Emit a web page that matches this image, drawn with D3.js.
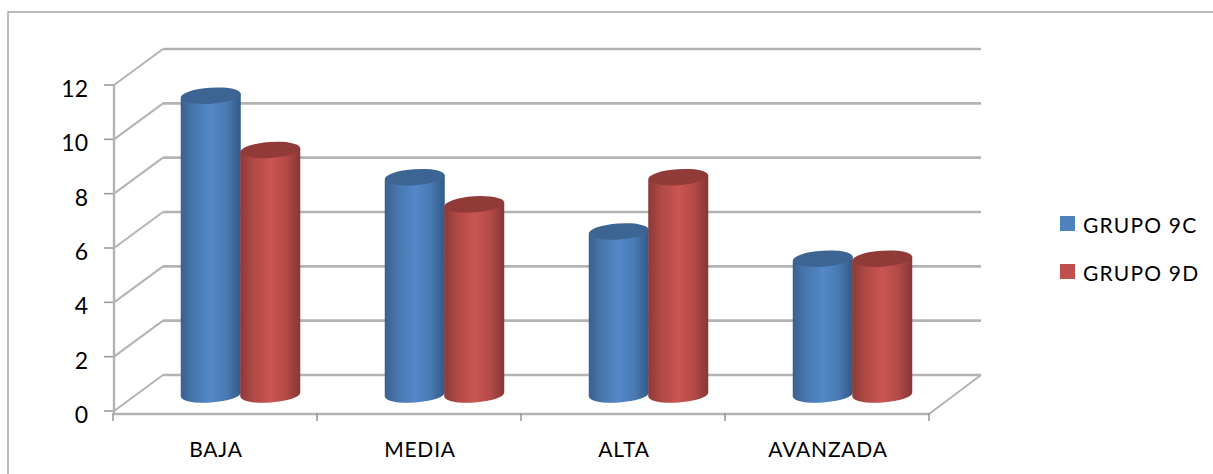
<!DOCTYPE html>
<html><head><meta charset="utf-8">
<script src="https://cdn.jsdelivr.net/npm/d3@7"></script>
<style>html,body{margin:0;padding:0;background:#fff}svg{display:block}text{font-family:Lato,"Open Sans",sans-serif;fill:#000}</style>
</head><body><svg id="c" width="1213" height="474"></svg>
<script>
const categories=["BAJA","MEDIA","ALTA","AVANZADA"];
const seriesNames=["GRUPO 9C","GRUPO 9D"];
const grupo9C=[11,8,6,5];
const grupo9D=[9,7,8,5];
const yTicks=[0,2,4,6,8,10,12];
const seriesValues=[grupo9C,grupo9D];
const colors=["#4f81bd","#c0504d"];

const svg=d3.select("#c");
const defs=svg.append("defs");
defs.append("filter").attr("id","soft").attr("x","-5%").attr("y","-5%").attr("width","110%").attr("height","110%")
  .append("feGaussianBlur").attr("stdDeviation",0.7);
const stops=[[["#38618f",0],["#4674a9",.18],["#5388c8",.5],["#4a7ab5",.75],["#335a88",1]],
             [["#8c3a38",0],["#ad4845",.2],["#cb5552",.5],["#b54b48",.75],["#863735",1]]];
stops.forEach((s,i)=>{
  const g=defs.append("linearGradient").attr("id","g"+i);
  s.forEach(([c,o])=>g.append("stop").attr("offset",o).attr("stop-color",c));
});
const topCol=["#3c6594","#913a38"];

const frontL=113,frontR=929,depthX=50,depthY=36;
const y=d3.scaleLinear().domain([0,12]).range([411,85]);
const x=d3.scaleBand().domain(categories).range([frontL,frontR]);
const grid="#b3b3b3";
const g=svg.append("g").attr("filter","url(#soft)");

// outer frame
g.append("path").attr("d","M8,474V12H1213").attr("fill","none").attr("stroke","#a6a6a6").attr("stroke-width",1.5);

// walls
yTicks.forEach(t=>{
  const yy=y(t);
  g.append("line").attr("x1",frontL+depthX).attr("x2",frontR+depthX+2).attr("y1",yy-depthY).attr("y2",yy-depthY)
    .attr("stroke",grid).attr("stroke-width",2.6);
  g.append("line").attr("x1",frontL+1).attr("x2",frontL+depthX).attr("y1",yy).attr("y2",yy-depthY)
    .attr("stroke",grid).attr("stroke-width",2);
  g.append("line").attr("x1",frontL-9).attr("x2",frontL+1).attr("y1",yy).attr("y2",yy)
    .attr("stroke","#9a9a9a").attr("stroke-width",1.6);
});
g.append("line").attr("x1",frontL+1).attr("x2",frontL+1).attr("y1",y(12)).attr("y2",y(0)+3).attr("stroke",grid).attr("stroke-width",2.4);
g.append("line").attr("x1",frontL).attr("x2",frontR).attr("y1",y(0)+3).attr("y2",y(0)+3).attr("stroke",grid).attr("stroke-width",2.6);
g.append("line").attr("x1",frontR).attr("x2",frontR+depthX+2).attr("y1",y(0)+3).attr("y2",y(0)-depthY).attr("stroke",grid).attr("stroke-width",2);
[...categories.map(c=>x(c)),frontR].forEach(px=>{
  g.append("line").attr("x1",px).attr("x2",px).attr("y1",y(0)+2).attr("y2",y(0)+10).attr("stroke","#9a9a9a").attr("stroke-width",1.6);
});

// cylinders
const inner=d3.scaleBand().domain([0,1]).range([0,119]);
const groupOffset=68,rx=30,ry=8,tilt=-4;
const baseY=y(0)-16.5;
const unit=y(0)-y(1);
function cyl(cat,si,v){
  const cx=x(cat)+groupOffset+inner(si)+inner.bandwidth()/2;
  const top=baseY-v*unit;
  const r=Math.PI*tilt/180;
  const dy=rx*Math.sin(r);
  const m=g.append("g");
  m.append("path")
    .attr("d",`M${cx-rx},${top-dy} L${cx-rx},${baseY-dy} A${rx},${ry} ${tilt} 0 0 ${cx+rx},${baseY+dy} L${cx+rx},${top+dy} Z`)
    .attr("fill",`url(#g${si})`);
  m.append("ellipse").attr("cx",cx).attr("cy",top).attr("rx",rx).attr("ry",ry)
    .attr("transform",`rotate(${tilt} ${cx} ${top})`).attr("fill",topCol[si]);
}
categories.forEach((c,i)=>seriesValues.forEach((s,si)=>cyl(c,si,s[i])));

// labels
yTicks.forEach(t=>svg.append("text").attr("x",88).attr("y",y(t)+12).attr("text-anchor","end").attr("font-size",23).text(t));
categories.forEach(c=>svg.append("text").attr("x",x(c)+x.bandwidth()/2+1).attr("y",457).attr("text-anchor","middle")
  .attr("font-size",21).attr("letter-spacing",0.8).text(c));
seriesNames.forEach((n,i)=>{
  const ly=d3.scalePoint().domain(seriesNames).range([224,272])(n);
  svg.append("rect").attr("x",1060).attr("y",ly-8).attr("width",15).attr("height",15).attr("fill",colors[i]);
  svg.append("text").attr("x",1083).attr("y",ly+9).attr("font-size",21).attr("letter-spacing",1.2).text(n);
});
</script></body></html>
